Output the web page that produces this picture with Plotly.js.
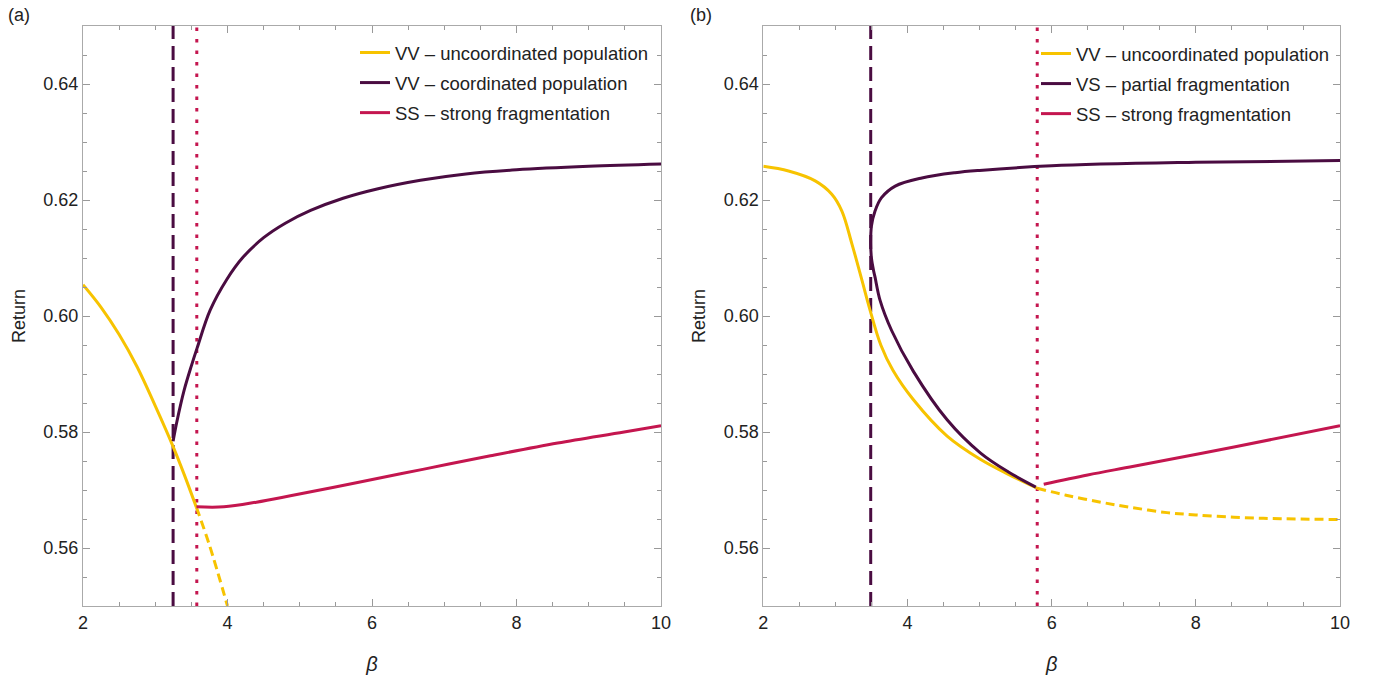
<!DOCTYPE html>
<html><head><meta charset="utf-8">
<script src="https://cdn.plot.ly/plotly-3.0.1.min.js"></script>
<style>html,body{margin:0;padding:0;background:#fff}</style>
</head><body><div id="chart" style="width:1380px;height:675px"></div>
<script>
// ---------- Panel (a) data ----------
const betaA_VVu = [2.0, 2.25, 2.5, 2.75, 3.0, 3.25, 3.4, 3.57];
const retA_VVu  = [0.6054, 0.6015, 0.5968, 0.5912, 0.5845, 0.5774, 0.5727, 0.5670];
const betaA_VVu_dash = [3.57, 3.75, 4.0];
const retA_VVu_dash  = [0.5670, 0.5605, 0.5500];
const betaA_VVc = [3.247, 3.3, 3.4, 3.5, 3.58, 3.76, 3.99, 4.22, 4.5, 4.8, 5.15, 5.6, 6.07, 6.67, 7.3, 8.0, 9.0, 10.0];
const retA_VVc  = [0.5784, 0.5818, 0.5872, 0.5914, 0.5945, 0.6010, 0.6063, 0.6102, 0.6135, 0.6160, 0.6182, 0.6203, 0.6219, 0.6234, 0.6245, 0.6252, 0.6258, 0.6262];
const betaA_SS = [3.57, 3.95, 4.4, 4.87, 5.8, 6.72, 7.64, 8.57, 9.49, 10.0];
const retA_SS  = [0.5671, 0.5671, 0.5679, 0.5690, 0.5713, 0.5736, 0.5759, 0.5781, 0.5800, 0.5811];
const vDashA = 3.247, vDotA = 3.575;

// ---------- Panel (b) data ----------
const betaB_VVu = [2.0, 2.35, 2.72, 2.95, 3.09, 3.23, 3.37, 3.47, 3.63, 3.8, 4.08, 4.55, 5.01, 5.4, 5.8];
const retB_VVu  = [0.6258, 0.6250, 0.6233, 0.6210, 0.6181, 0.6124, 0.6061, 0.6015, 0.5950, 0.5906, 0.5856, 0.5793, 0.5753, 0.5727, 0.5703];
const betaB_VVu_dash = [5.8, 6.2, 6.68, 7.1, 7.6, 8.0, 8.53, 9.0, 9.45, 10.0];
const retB_VVu_dash  = [0.5703, 0.5691, 0.5679, 0.5670, 0.5661, 0.5657, 0.5653, 0.5651, 0.5650, 0.5649];
const betaB_VS = [10.0, 8.0, 6.0, 5.0, 4.66, 4.20, 3.83, 3.64, 3.55, 3.50, 3.49, 3.50, 3.53, 3.55, 3.62, 3.78, 4.08, 4.55, 5.01, 5.4, 5.78];
const retB_VS  = [0.6268, 0.6265, 0.6259, 0.6251, 0.6247, 0.6238, 0.6224, 0.6204, 0.6181, 0.6155, 0.6125, 0.6100, 0.6078, 0.6067, 0.6027, 0.5975, 0.5905, 0.5821, 0.5764, 0.5731, 0.5705];
const betaB_SS = [5.89, 6.5, 7.14, 8.53, 10.0];
const retB_SS  = [0.5710, 0.5726, 0.5741, 0.5774, 0.5811];
const vDashB = 3.49, vDotB = 5.80;

const namesA = ['VV – uncoordinated population', 'VV – coordinated population', 'SS – strong fragmentation'];
const namesB = ['VV – uncoordinated population', 'VS – partial fragmentation', 'SS – strong fragmentation'];

const YEL = '#F7C300', PUR = '#4A0C41', RED = '#C4164F';
const FONT = 'Liberation Sans, Arial, sans-serif';
const LW = 3;

function tr(x, y, color, xa, ya, name, legend, show, dash, grp) {
  return {x: x, y: y, type: 'scatter', mode: 'lines', xaxis: xa, yaxis: ya,
    name: name, legend: legend, showlegend: show, legendgroup: grp,
    line: {color: color, width: LW, dash: dash || 'solid', shape: 'spline', smoothing: 1}, hoverinfo: 'skip'};
}

const data = [
  tr(betaA_VVu, retA_VVu, YEL, 'x', 'y', namesA[0], 'legend', true, 'solid', 'a1'),
  tr(betaA_VVu_dash, retA_VVu_dash, YEL, 'x', 'y', namesA[0], 'legend', false, '9px,5px', 'a1'),
  tr(betaA_VVc, retA_VVc, PUR, 'x', 'y', namesA[1], 'legend', true, 'solid', 'a2'),
  tr(betaA_SS, retA_SS, RED, 'x', 'y', namesA[2], 'legend', true, 'solid', 'a3'),
  tr(betaB_VVu, retB_VVu, YEL, 'x2', 'y2', namesB[0], 'legend2', true, 'solid', 'b1'),
  tr(betaB_VVu_dash, retB_VVu_dash, YEL, 'x2', 'y2', namesB[0], 'legend2', false, '9px,5px', 'b1'),
  tr(betaB_VS, retB_VS, PUR, 'x2', 'y2', namesB[1], 'legend2', true, 'solid', 'b2'),
  tr(betaB_SS, retB_SS, RED, 'x2', 'y2', namesB[2], 'legend2', true, 'solid', 'b3')
];

function xax(domain, anchor) {
  return {domain: domain, anchor: anchor, range: [2, 10], tick0: 2, dtick: 2,
    ticks: 'inside', ticklen: 7, tickwidth: 1, tickcolor: '#999',
    showline: true, linecolor: '#aaa', linewidth: 1, mirror: 'allticks',
    showgrid: false, zeroline: false,
    tickfont: {family: FONT, size: 18, color: '#222'},
    minor: {dtick: 0.5, tick0: 2, ticks: 'inside', ticklen: 4, tickcolor: '#999', showgrid: false},
    title: {text: '<i>β</i>', font: {family: FONT, size: 20, color: '#222'}}};
}
function yax(anchor) {
  return {domain: [1 - 606/675, 1 - 26/675], anchor: anchor, range: [0.55, 0.65],
    tick0: 0.56, dtick: 0.02, tickformat: '.2f',
    ticks: 'inside', ticklen: 7, tickwidth: 1, tickcolor: '#999',
    showline: true, linecolor: '#aaa', linewidth: 1, mirror: 'allticks',
    showgrid: false, zeroline: false,
    tickfont: {family: FONT, size: 18, color: '#222'},
    minor: {dtick: 0.005, tick0: 0.56, ticks: 'inside', ticklen: 4, tickcolor: '#999', showgrid: false},
    title: {text: 'Return', standoff: 13, font: {family: FONT, size: 18, color: '#222'}}};
}

function vline(x, xref, color, dash) {
  return {type: 'line', xref: xref, yref: (xref === 'x' ? 'y' : 'y2') + ' domain',
    x0: x, x1: x, y0: 0, y1: 1, layer: 'below',
    line: {color: color, width: LW, dash: dash}};
}

const legendCommon = {bgcolor: 'rgba(0,0,0,0)', borderwidth: 0,
  font: {family: FONT, size: 18.5, color: '#222'}, traceorder: 'grouped', tracegroupgap: 3,
  xanchor: 'left', yanchor: 'top'};

const layout = {
  width: 1380, height: 675,
  margin: {l: 0, r: 0, t: 0, b: 0},
  paper_bgcolor: '#fff', plot_bgcolor: '#fff',
  showlegend: true,
  xaxis: xax([83/1380, 661/1380], 'y'),
  yaxis: yax('x'),
  xaxis2: xax([763.3/1380, 1340/1380], 'y2'),
  yaxis2: yax('x2'),
  legend: Object.assign({x: 355/1380, y: 1 - 34/675}, legendCommon),
  legend2: Object.assign({x: 1036/1380, y: 1 - 35/675}, legendCommon),
  shapes: [
    vline(vDashA, 'x', PUR, '14px,7px'),
    vline(vDotA, 'x', RED, '3.5px,8px'),
    vline(vDashB, 'x2', PUR, '14px,7px'),
    vline(vDotB, 'x2', RED, '3.5px,8px')
  ],
  annotations: [
    {text: '(a)', xref: 'paper', yref: 'paper', x: 6/1380, y: 1 - 15/675, xanchor: 'left', yanchor: 'middle', showarrow: false, font: {family: FONT, size: 18, color: '#222'}},
    {text: '(b)', xref: 'paper', yref: 'paper', x: 688/1380, y: 1 - 15/675, xanchor: 'left', yanchor: 'middle', showarrow: false, font: {family: FONT, size: 18, color: '#222'}}
  ]
};

Plotly.newPlot('chart', data, layout, {staticPlot: true, displayModeBar: false});
</script></body></html>
